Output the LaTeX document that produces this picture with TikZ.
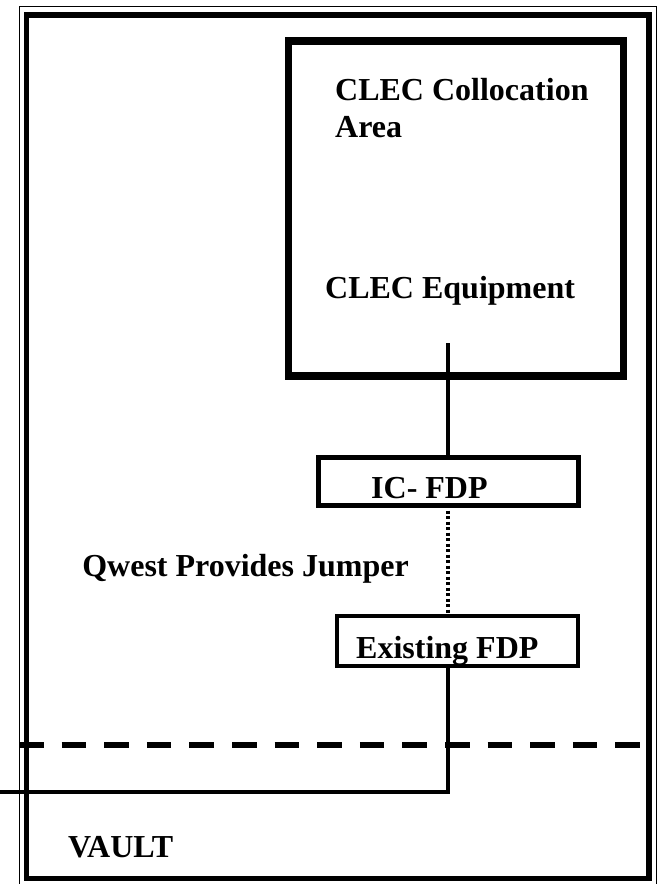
\documentclass[tikz,border=0pt]{standalone}
\usepackage{fontspec}
\setmainfont{Liberation Serif}
\begin{document}
\begin{tikzpicture}[x=1pt,y=-1pt,
  lbl/.style={font=\fontsize{32}{36}\selectfont\bfseries, inner sep=0pt, anchor=base west},
  lblr/.style={font=\fontsize{32}{36}\selectfont\bfseries, inner sep=0pt, anchor=base east},
  box/.style={draw, inner sep=0pt, outer sep=0pt},
  wire/.style={line width=3.4pt},
  jumper/.style={line width=4pt, dash pattern=on 3pt off 2.5pt},
  boundary/.style={line width=5.5pt, dash pattern=on 24.5pt off 18.1pt},
]
\useasboundingbox (0,0) rectangle (659,884);
\clip (0,0) rectangle (659,884);
\fill[white] (0,0) rectangle (659,884);
% building frame (double line)
\draw[line width=1.8pt] (19.5,6.5) rectangle (656.5,895);
\draw[line width=5.5pt] (26.5,15) rectangle (649,878.5);
% CLEC collocation area
\node[box, line width=7.5pt, minimum width=335pt, minimum height=335pt] (clec) at (456,208.5) {};
\node[lbl] (t1) at (335,100) {CLEC Collocation};
\node[lbl] (t2) at (335,137) {Area};
\node[lbl] (t3) at (325,298) {CLEC Equipment};
% frames
\node[box, line width=5pt, minimum width=260pt, minimum height=48pt] (icfdp) at (448,481) {};
\node[lbl] (t4) at (371,498) {IC- FDP};
\node[box, line width=3.2pt, minimum width=241pt, minimum height=50pt] (exfdp) at (457.5,641) {};
\node[lbl] (t5) at (356,658) {Existing FDP};
\node[lblr] (t6) at (409,576) {Qwest Provides Jumper};
\node[lbl] (t7) at (68,857) {VAULT};
% vault boundary
\coordinate (bl) at (19,745);
\coordinate (br) at (646,745);
\draw[boundary] (bl) -- (br);
% connectors
\coordinate (eqwire) at (448,343);
\coordinate (exit) at (0,792);
\draw[wire] (eqwire) -- (icfdp.north);
\draw[jumper] (icfdp.south) -- (icfdp.south |- exfdp.north);
\draw[wire] (icfdp.south |- exfdp.south) |- (exit);
\end{tikzpicture}
\end{document}
